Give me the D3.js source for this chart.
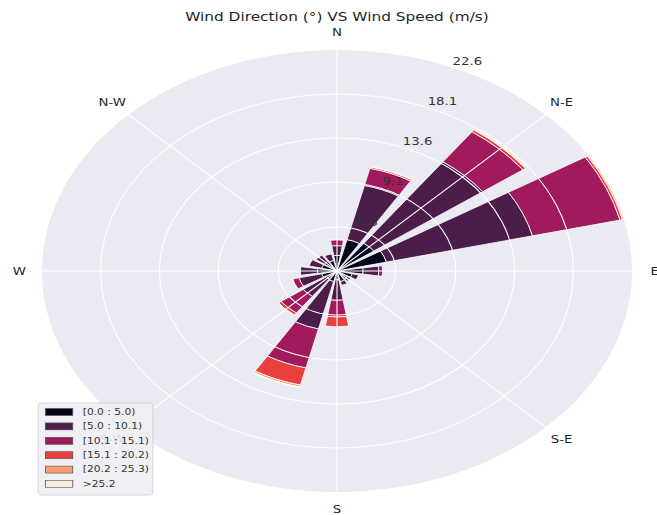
<!DOCTYPE html>
<html>
<head>
<meta charset="utf-8">
<script src="https://cdn.jsdelivr.net/npm/d3@7"></script>
<style>
  body { margin: 0; background: #fff; }
  text { font-family: "DejaVu Sans", sans-serif; }
</style>
</head>
<body>
<svg id="chart" width="657" height="515"></svg>
<script>
// 16 sectors, clockwise from north
const directions = ["N", "NNE", "NE", "ENE", "E", "ESE", "SE", "SSE",
                    "S", "SSW", "SW", "WSW", "W", "WNW", "NW", "NNW"];
const speedBins = ["[0.0 : 5.0)", "[5.0 : 10.1)", "[10.1 : 15.1)",
                   "[15.1 : 20.2)", "[20.2 : 25.3)", ">25.2"];

// frequency (%) per direction, one array per speed bin
const freq0to5   = [1.6, 3.3, 3.5, 3.9, 2.0, 1.2, 1.0, 1.1, 0.9, 1.1, 1.0, 1.2, 1.5, 1.2, 1.2, 1.1];
const freq5to10  = [1.0, 5.7, 10.3, 11.5, 1.2, 0.5, 0.3, 0.4, 2.1, 5.0, 2.2, 1.8, 1.3, 1.0, 0.8, 0.7];
const freq10to15 = [0.6, 1.8, 3.8, 6.9, 0.3, 0, 0, 0, 1.7, 4.1, 2.1, 0.5, 0, 0, 0, 0];
const freq15to20 = [0.05, 0.15, 0.25, 0.2, 0, 0, 0, 0, 1.0, 1.8, 0.25, 0.05, 0, 0, 0, 0];
const freq20to25 = [0, 0.05, 0.05, 0.1, 0, 0, 0, 0, 0, 0.2, 0.05, 0, 0, 0, 0, 0];
const freqOver25 = [0, 0, 0, 0, 0, 0, 0, 0, 0, 0.05, 0, 0, 0, 0, 0, 0];

const radialTicks = [4.5, 9.1, 13.6, 18.1, 22.6];
const compassLabels = ["N", "N-E", "E", "S-E", "S", "S-W", "W", "N-W"];

const binColors = ["#03051a", "#4c1d4b", "#a11a5b", "#e83f3f", "#f69c73", "#faebdd"];

// the reference is stretched horizontally, so everything is drawn
// in a native frame and scaled on x
const stretch = 1.335;
const cx = 337 / stretch, cy = 271, R = 221;

const svg = d3.select("#chart");
const root = svg.append("g").attr("transform", `scale(${stretch},1)`);

const keys = ["b0", "b1", "b2", "b3", "b4", "b5"];
const series = [freq0to5, freq5to10, freq10to15, freq15to20, freq20to25, freqOver25];
const table = directions.map((d, i) => {
  const row = { dir: d };
  keys.forEach((k, j) => row[k] = series[j][i]);
  return row;
});
const stacked = d3.stack().keys(keys)(table);

const r = d3.scaleLinear().domain([0, 22.6]).range([0, R]);
const angle = d3.scalePoint().domain(directions).range([0, 2 * Math.PI * 15 / 16]);
const half = 0.8 * Math.PI / 16;

const polar = root.append("g").attr("transform", `translate(${cx},${cy})`);

// background disc
polar.append("circle").attr("r", r(22.6)).attr("fill", "#eaeaf2");

// bars
const arc = d3.arc();
stacked.forEach((layer, li) => {
  polar.append("g")
    .selectAll("path")
    .data(layer.filter(d => d[1] - d[0] > 0))
    .join("path")
    .attr("d", d => arc({
      innerRadius: r(d[0]),
      outerRadius: r(d[1]),
      startAngle: angle(d.data.dir) - half,
      endAngle: angle(d.data.dir) + half
    }))
    .attr("fill", binColors[li])
    .attr("stroke", "#fff")
    .attr("stroke-width", 0.7);
});

// grid on top
const grid = polar.append("g").attr("fill", "none").attr("stroke", "#fff").attr("stroke-width", 1.1);
grid.selectAll("circle")
  .data(radialTicks.slice(0, -1))
  .join("circle")
  .attr("r", d => r(d))
  .attr("vector-effect", "non-scaling-stroke");
grid.selectAll("line")
  .data(d3.range(8))
  .join("line")
  .attr("x2", i => r(22.6) * Math.sin(i * Math.PI / 4))
  .attr("y2", i => -r(22.6) * Math.cos(i * Math.PI / 4))
  .attr("vector-effect", "non-scaling-stroke");

// radial tick labels
const labAng = 25 * Math.PI / 180;
polar.append("g")
  .selectAll("text")
  .data(radialTicks)
  .join("text")
  .attr("x", d => (r(d) + 10) * Math.sin(labAng))
  .attr("y", d => -(r(d) + 10) * Math.cos(labAng))
  .attr("dy", "0.35em")
  .attr("text-anchor", "middle")
  .attr("font-size", 10)
  .attr("fill", "#333")
  .text(d => d);

// compass labels
polar.append("g")
  .selectAll("text")
  .data(compassLabels)
  .join("text")
  .attr("x", (d, i) => r(22.6) * 1.077 * Math.sin(i * Math.PI / 4))
  .attr("y", (d, i) => -r(22.6) * 1.077 * Math.cos(i * Math.PI / 4))
  .attr("dy", "0.35em")
  .attr("text-anchor", "middle")
  .attr("font-size", 10)
  .attr("fill", "#262626")
  .text(d => d);

// title
root.append("text")
  .attr("x", cx)
  .attr("y", 21)
  .attr("text-anchor", "middle")
  .attr("font-size", 11.5)
  .attr("fill", "#262626")
  .text("Wind Direction (°) VS Wind Speed (m/s)");

// legend (semi-opaque frame, S-W label shows faintly behind it)
const legend = root.append("g").attr("transform", "translate(28.5,403)");
legend.append("rect")
  .attr("width", 86).attr("height", 92).attr("rx", 3)
  .attr("fill", "#eeeef3").attr("fill-opacity", 0.9)
  .attr("stroke", "#d6d6dc").attr("stroke-width", 0.8);
const item = legend.selectAll("g.item")
  .data(speedBins)
  .join("g")
  .attr("class", "item")
  .attr("transform", (d, i) => `translate(0,${9 + i * 14.4})`);
item.append("rect")
  .attr("x", 5.5).attr("y", -3.5).attr("width", 20.5).attr("height", 7)
  .attr("fill", (d, i) => binColors[i])
  .attr("stroke", "#555").attr("stroke-width", 0.6);
item.append("text")
  .attr("x", 33.5)
  .attr("dy", "0.35em")
  .attr("font-size", 8)
  .attr("fill", "#333")
  .text(d => d);
</script>
</body>
</html>
